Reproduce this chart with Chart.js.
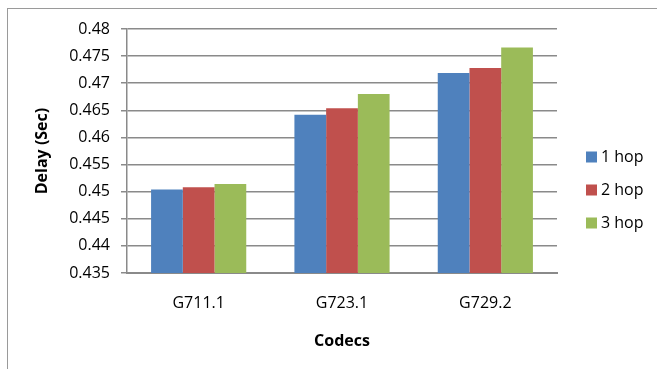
<!DOCTYPE html>
<html>
<head>
<meta charset="utf-8">
<script src="https://cdn.jsdelivr.net/npm/chart.js@4"></script>
<style>
  html, body { margin: 0; padding: 0; background: #ffffff; }
  #wrap { position: relative; width: 657px; height: 369px; }
</style>
</head>
<body>
<div id="wrap"><canvas id="chart" width="657" height="369"></canvas></div>
<script>
// Codecs compared and the end-to-end delay (seconds) for each hop count
const codecs = ['G711.1', 'G723.1', 'G729.2'];
const hop1 = [0.4504, 0.4642, 0.4719];
const hop2 = [0.4508, 0.4654, 0.4728];
const hop3 = [0.4514, 0.4680, 0.4766];
const seriesNames = ['1 hop', '2 hop', '3 hop'];
const seriesColors = ['#4F81BD', '#C0504D', '#9BBB59'];

const yMin = 0.435, yMax = 0.48, yStep = 0.005;

const FONT = "'Open Sans', 'DejaVu Sans', sans-serif";
const GRID = '#8a8a8a';

// Frame around the whole figure
const framePlugin = {
  id: 'frame',
  beforeDraw(chart) {
    const ctx = chart.ctx;
    ctx.save();
    ctx.strokeStyle = '#9a9a9a';
    ctx.lineWidth = 1;
    ctx.strokeRect(7.5, 8.5, 700, 400);
    ctx.restore();
  }
};

// Legend at the right of the plot, one square swatch per series
const sideLegend = {
  id: 'sideLegend',
  afterDraw(chart) {
    const ctx = chart.ctx;
    const x = 586, y0 = 157, gap = 33, box = 11;
    ctx.save();
    ctx.font = '16px ' + FONT;
    ctx.textBaseline = 'middle';
    ctx.textAlign = 'left';
    chart.data.datasets.forEach((ds, i) => {
      const cy = y0 + i * gap;
      ctx.fillStyle = ds.backgroundColor;
      ctx.fillRect(x, cy - box / 2, box, box);
      ctx.fillStyle = '#000000';
      ctx.fillText(ds.label, x + box + 4, cy + 0.5);
    });
    ctx.restore();
  }
};

const datasets = [hop1, hop2, hop3].map((vals, i) => ({
  label: seriesNames[i],
  data: vals,
  backgroundColor: seriesColors[i],
  borderWidth: 0,
  categoryPercentage: 0.664,
  barPercentage: 1.0
}));

new Chart(document.getElementById('chart'), {
  type: 'bar',
  data: { labels: codecs, datasets },
  plugins: [framePlugin, sideLegend],
  options: {
    responsive: false,
    animation: false,
    devicePixelRatio: 1,
    layout: { padding: { top: 29, right: 100, bottom: 0, left: 0 } },
    plugins: {
      legend: { display: false },
      tooltip: { enabled: false }
    },
    scales: {
      x: {
        afterFit(scale) { scale.height = 96; },
        grid: { display: false, drawTicks: false },
        border: { display: true, color: GRID, width: 2 },
        ticks: { color: '#000000', font: { family: FONT, size: 16 }, padding: 21 },
        title: {
          display: true, text: 'Codecs', color: '#000000',
          font: { family: FONT, size: 16, weight: 'bold' },
          padding: { top: 0, bottom: 18 }
        }
      },
      y: {
        min: yMin, max: yMax,
        afterFit(scale) { scale.width = 127; },
        grid: { color: GRID, lineWidth: 1.5, drawTicks: true, tickLength: 6, tickColor: GRID },
        border: { display: true, color: GRID, width: 1.5 },
        ticks: {
          stepSize: yStep,
          color: '#000000',
          font: { family: FONT, size: 16 },
          padding: 11,
          callback: (v) => String(parseFloat(Number(v).toFixed(3)))
        },
        title: {
          display: true, text: 'Delay (Sec)', color: '#000000',
          font: { family: FONT, size: 16, weight: 'bold' },
          padding: { top: 33, bottom: 0 }
        }
      }
    }
  }
});
</script>
</body>
</html>
